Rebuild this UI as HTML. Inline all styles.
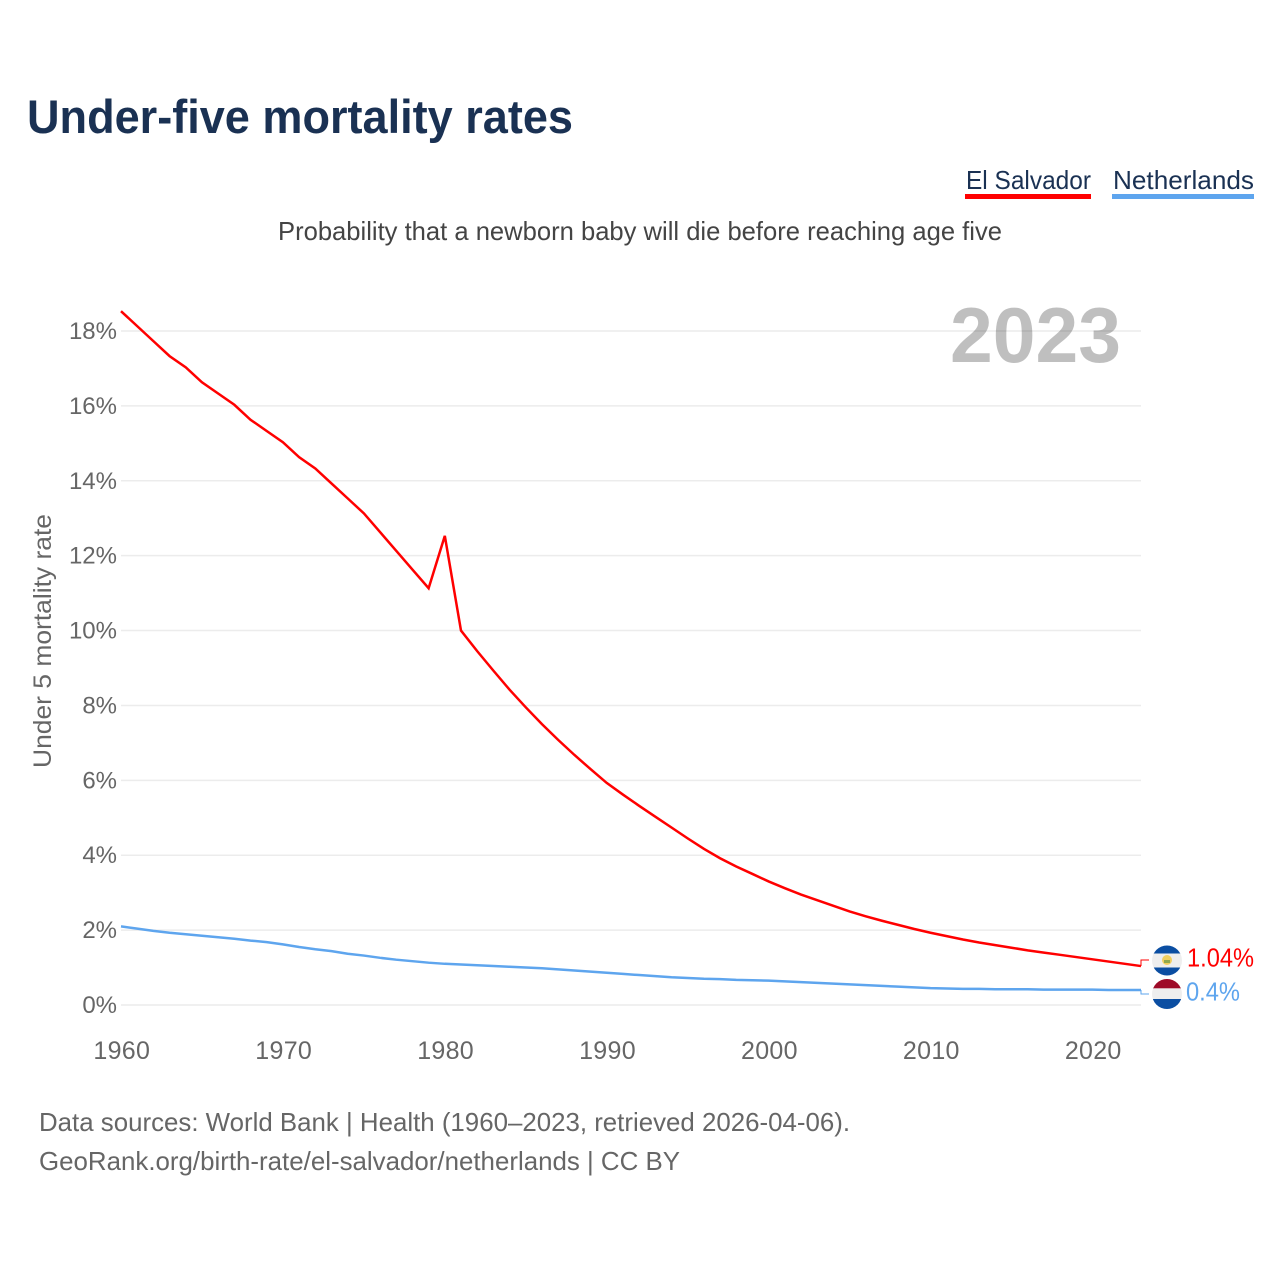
<!DOCTYPE html>
<html lang="en">
<head>
<meta charset="utf-8">
<title>Under-five mortality rates</title>
<style>
html,body{margin:0;padding:0;background:#fff;}
svg{display:block;font-family:"Liberation Sans",sans-serif;}
</style>
</head>
<body>
<svg id="chart" xmlns="http://www.w3.org/2000/svg" width="1280" height="1280" viewBox="0 0 1280 1280">
  <defs>
    <clipPath id="clip-sv"><circle cx="1167" cy="960.5" r="15"/></clipPath>
    <clipPath id="clip-nl"><circle cx="1167" cy="994" r="15"/></clipPath>
  </defs>
  <text x="27" y="133" font-size="47" font-weight="700" fill="#1a3153" textLength="546" lengthAdjust="spacingAndGlyphs">Under-five mortality rates</text>

  <g>
    <text x="966" y="189" font-size="26" fill="#1a3153" textLength="125" lengthAdjust="spacingAndGlyphs">El Salvador</text>
    <rect x="965" y="194" width="126" height="5" fill="#ff0000"/>
  </g>
  <g>
    <text x="1113" y="189" font-size="26" fill="#1a3153" textLength="141" lengthAdjust="spacingAndGlyphs">Netherlands</text>
    <rect x="1112" y="194" width="142" height="5" fill="#5ea5ee"/>
  </g>

  <text x="278" y="240" font-size="26" fill="#444" textLength="724" lengthAdjust="spacingAndGlyphs">Probability that a newborn baby will die before reaching age five</text>

  <g id="grid"></g>

  <text x="950" y="362" font-size="78" font-weight="700" fill="#000" fill-opacity="0.25" textLength="171" lengthAdjust="spacingAndGlyphs">2023</text>

  <g id="y-labels"></g>
  <g id="x-labels"></g>

  <text transform="translate(51 768) rotate(-90)" x="0" y="0" font-size="25" fill="#666" textLength="254" lengthAdjust="spacingAndGlyphs">Under 5 mortality rate</text>

  <g id="series"></g>

  <g clip-path="url(#clip-sv)">
    <rect x="1152" y="945" width="30" height="9" fill="#0b4ea2"/>
    <rect x="1152" y="953.5" width="30" height="14.5" fill="#eeeeee"/>
    <rect x="1152" y="967.5" width="30" height="9" fill="#0b4ea2"/>
    <circle cx="1167" cy="960" r="5" fill="#f1cf5e"/>
    <rect x="1164" y="960" width="6" height="3" fill="#8fa84f"/>
  </g>
  <g clip-path="url(#clip-nl)">
    <rect x="1152" y="979" width="30" height="9.5" fill="#9e0b28"/>
    <rect x="1152" y="988.3" width="30" height="11" fill="#eeeeee"/>
    <rect x="1152" y="999" width="30" height="11" fill="#0b4ea2"/>
  </g>

  <text x="1187" y="966.5" font-size="26" fill="#ff0000" textLength="67" lengthAdjust="spacingAndGlyphs">1.04%</text>
  <text x="1186" y="1000.5" font-size="26" fill="#5ea5ee" textLength="54" lengthAdjust="spacingAndGlyphs">0.4%</text>

  <text x="39" y="1131" font-size="26" fill="#666" textLength="811" lengthAdjust="spacingAndGlyphs">Data sources: World Bank | Health (1960–2023, retrieved 2026-04-06).</text>
  <text x="39" y="1170" font-size="26" fill="#666" textLength="641" lengthAdjust="spacingAndGlyphs">GeoRank.org/birth-rate/el-salvador/netherlands | CC BY</text>
</svg>
<script>
const years = [];
for (let yr = 1960; yr <= 2023; yr++) years.push(yr);
const elSalvador = [18.53,18.13,17.73,17.33,17.03,16.63,16.33,16.03,15.63,15.33,15.03,14.63,14.33,13.93,13.53,13.13,12.63,12.13,11.63,11.13,12.53,10.0,9.45,8.93,8.42,7.95,7.5,7.08,6.68,6.3,5.93,5.62,5.32,5.03,4.74,4.45,4.17,3.92,3.7,3.5,3.3,3.12,2.95,2.8,2.65,2.5,2.37,2.25,2.14,2.03,1.93,1.84,1.75,1.67,1.6,1.53,1.46,1.4,1.34,1.28,1.22,1.16,1.1,1.04];
const netherlands = [2.1,2.04,1.98,1.93,1.89,1.85,1.81,1.77,1.72,1.68,1.62,1.55,1.49,1.44,1.37,1.32,1.26,1.21,1.17,1.13,1.1,1.08,1.06,1.04,1.02,1.0,0.98,0.95,0.92,0.89,0.86,0.83,0.8,0.77,0.74,0.72,0.7,0.69,0.67,0.66,0.65,0.63,0.61,0.59,0.57,0.55,0.53,0.51,0.49,0.47,0.45,0.44,0.43,0.43,0.42,0.42,0.42,0.41,0.41,0.41,0.41,0.4,0.4,0.4];
const yTicks = [0,2,4,6,8,10,12,14,16,18];
const xTicks = [1960,1970,1980,1990,2000,2010,2020];

const NS = 'http://www.w3.org/2000/svg';
function xScale(year) { return 121 + (year - 1960) * (1141 - 121) / 63; }
function yScale(v) { return 1005 - v * (1005 - 331) / 18; }
function make(tag, parent) {
  const el = document.createElementNS(NS, tag);
  parent.appendChild(el);
  return el;
}

const grid = document.getElementById('grid');
const yLabels = document.getElementById('y-labels');
const xLabels = document.getElementById('x-labels');
const series = document.getElementById('series');

yTicks.forEach(function (t) {
  const line = make('line', grid);
  
  
  line.setAttribute('x1', 121);
  line.setAttribute('x2', 1141);
  line.setAttribute('y1', yScale(t));
  line.setAttribute('y2', yScale(t));
  line.setAttribute('stroke', '#ececec');
  line.setAttribute('stroke-width', '1.5');
  const label = make('text', yLabels);
  
  
  label.setAttribute('x', 117);
  label.setAttribute('y', yScale(t) + 8);
  label.setAttribute('text-anchor', 'end');
  label.setAttribute('font-size', '24');
  label.setAttribute('fill', '#666');
  label.textContent = t + '%';
});

xTicks.forEach(function (t) {
  const label = make('text', xLabels);
  
  
  label.setAttribute('x', xScale(t) + 0.8);
  label.setAttribute('y', 1059);
  label.setAttribute('text-anchor', 'middle');
  label.setAttribute('font-size', '25');
  label.setAttribute('letter-spacing', '0.3');
  label.setAttribute('fill', '#666');
  label.textContent = String(t);
});

function pathFor(values) {
  return values.map(function (v, i) {
    return (i ? 'L' : 'M') + xScale(years[i]).toFixed(2) + ' ' + yScale(v).toFixed(2);
  }).join(' ');
}

const blueLine = make('path', series);


blueLine.setAttribute('d', pathFor(netherlands));
blueLine.setAttribute('fill', 'none');
blueLine.setAttribute('stroke', '#5ea5ee');
blueLine.setAttribute('stroke-width', '2.5');

const redLine = make('path', series);


redLine.setAttribute('d', pathFor(elSalvador));
redLine.setAttribute('fill', 'none');
redLine.setAttribute('stroke', '#ff0000');
redLine.setAttribute('stroke-width', '2.5');

const redLeader = make('path', series);


redLeader.setAttribute('d', 'M' + xScale(2023) + ' ' + yScale(elSalvador[63]) + ' V960 H1149');
redLeader.setAttribute('fill', 'none');
redLeader.setAttribute('stroke', '#ff0000');
redLeader.setAttribute('stroke-width', '1');

const blueLeader = make('path', series);


blueLeader.setAttribute('d', 'M' + xScale(2023) + ' ' + yScale(netherlands[63]) + ' V994 H1149');
blueLeader.setAttribute('fill', 'none');
blueLeader.setAttribute('stroke', '#5ea5ee');
blueLeader.setAttribute('stroke-width', '1');
</script>
</body>
</html>
